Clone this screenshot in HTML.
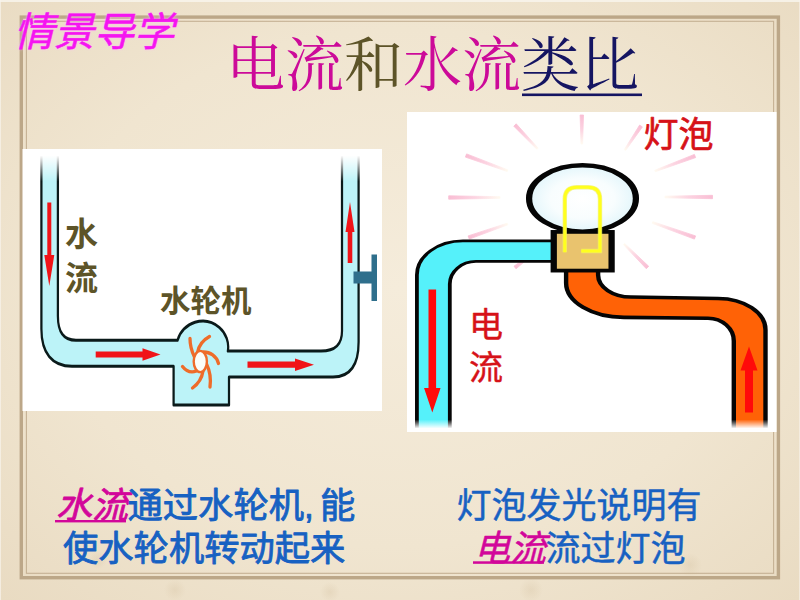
<!DOCTYPE html><html lang="zh"><head><meta charset="utf-8"><title>电流和水流类比</title><style>html,body{margin:0;padding:0;width:800px;height:600px;overflow:hidden;background:#efe3cd;font-family:"Liberation Sans",sans-serif}.slide{position:relative;width:800px;height:600px;overflow:hidden}svg{display:block;position:absolute;left:0;top:0}.sr{position:absolute;left:0;top:0;width:1px;height:1px;overflow:hidden;opacity:0;clip:rect(0 0 0 0);clip-path:inset(50%);white-space:nowrap;font-size:1px;color:transparent}</style></head><body><div class="slide"><div class="sr"><h2>情景导学</h2><h1>电流和水流类比</h1><p>水流 水轮机</p><p>水流通过水轮机, 能使水轮机转动起来</p><p>灯泡 电流</p><p>灯泡发光说明有电流流过灯泡</p></div><svg width="800" height="600" viewBox="0 0 800 600" role="img" aria-labelledby="t d"><title id="t">电流和水流类比</title><desc id="d">情景导学：水流通过水轮机，能使水轮机转动起来；灯泡发光说明有电流流过灯泡。</desc><defs>
<radialGradient id="bg" cx="50%" cy="48%" r="72%">
<stop offset="0" stop-color="#f5ecdb"/>
<stop offset="0.6" stop-color="#f0e5d0"/>
<stop offset="1" stop-color="#e9dbc2"/>
</radialGradient>
<linearGradient id="fadeTop" x1="0" y1="0" x2="0" y2="1">
<stop offset="0" stop-color="#fff" stop-opacity="1"/>
<stop offset="1" stop-color="#fff" stop-opacity="0"/>
</linearGradient>
<linearGradient id="fadeBot" x1="0" y1="0" x2="0" y2="1">
<stop offset="0" stop-color="#fff" stop-opacity="0"/>
<stop offset="1" stop-color="#fff" stop-opacity="1"/>
</linearGradient>
<filter id="glow" x="-10%" y="-20%" width="120%" height="140%"><feGaussianBlur stdDeviation="1.6"/></filter>
</defs>
<rect width="800" height="600" fill="url(#bg)"/>
<rect x="21.3" y="17.1" width="757.1" height="560.6" fill="none" stroke="#bca788" stroke-width="3.4"/>
<rect x="26.4" y="21.3" width="747.2" height="552" fill="none" stroke="#c5b193" stroke-width="1.1"/>
<rect x="0" y="0" width="800" height="2" fill="#f8f4ec" opacity="0.85"/><rect x="0" y="0" width="1" height="600" fill="#f8f4ec" opacity="0.7"/><rect x="799" y="0" width="1" height="600" fill="#f8f4ec" opacity="0.6"/>
<radialGradient id="blob"><stop offset="0" stop-color="#c9b38f" stop-opacity="0.22"/><stop offset="1" stop-color="#c9b38f" stop-opacity="0"/></radialGradient>
<circle cx="175" cy="590" r="11" fill="url(#blob)"/>
<circle cx="531" cy="590" r="12" fill="url(#blob)"/>
<circle cx="690" cy="565" r="12" fill="url(#blob)"/>
<circle cx="98" cy="560" r="9" fill="url(#blob)"/>
<circle cx="330" cy="592" r="10" fill="url(#blob)"/>
<rect x="22.5" y="149" width="359.5" height="262" fill="#fff"/>
<rect x="407" y="112" width="369.5" height="320" fill="#fff"/>
<path d="M41.4 150 L41.4 329 C41.4 353 52 366.3 72 366.3 L173.6 366.3 L173.6 405 L229 405 L229 377 L333 377 C350 377 358.6 365 358.6 342 L358.6 150 L342.0 150 L342.0 331 C342.0 345 335 351 321 351 L227.8 351 C229.29 342.24 226.08 333.36 219.38 327.52 C212.68 321.69 203.45 319.72 194.95 322.33 C186.46 324.94 179.92 331.75 177.65 340.34 L76 340.3 C64 340.3 57.9 333 57.9 316 L57.9 150 Z" fill="#bcf3f8"/>
<g transform="scale(1,1.4)"><path d="M 41.4 107.14 L 41.4 235 C 41.4 252.14 52 261.64 72 261.64 L 173.6 261.64 L 173.6 289.29 L 229 289.29 L 229 269.29 L 333 269.29 C 350 269.29 358.6 260.71 358.6 244.29 L 358.6 107.14" fill="none" stroke="#0a1a1a" stroke-width="2.25" stroke-linejoin="round"/></g>
<g transform="scale(1,1.4)"><path d="M 57.9 107.14 L 57.9 225.71 C 57.9 237.86 64 243.07 76 243.07 L 177.5 243.07 C 179.92 236.96 186.46 232.1 194.95 230.24 C 203.45 228.37 212.68 229.78 219.38 233.94 C 226.08 238.11 229.29 244.46 227.87 250.72 L 321 250.71 C 335 250.71 342 246.43 342 236.43 L 342 107.14" fill="none" stroke="#0a1a1a" stroke-width="2.25" stroke-linejoin="round"/></g>
<rect x="36" y="149" width="28" height="7" fill="#fff"/><rect x="36" y="155.5" width="28" height="26" fill="url(#fadeTop)"/>
<rect x="337" y="149" width="28" height="7" fill="#fff"/><rect x="337" y="155.5" width="28" height="26" fill="url(#fadeTop)"/>
<path d="M47.3 202.5 L51.3 202.5 L51.3 255 L54.3 255 L49.3 286 L44.3 255 L47.3 255 Z" fill="#f01418"/>
<path d="M347.7 263 L352.3 263 L352.3 232 L354.5 232 L350 202 L345.5 232 L347.7 232 Z" fill="#f01418"/>
<path d="M95.7 351.4 L95.7 357.6 L142.5 357.6 L142.5 360.75 L160.5 354.5 L142.5 348.25 L142.5 351.4 Z" fill="#f01418"/>
<path d="M247.5 361.59999999999997 L247.5 367.8 L295 367.8 L295 370.95 L314 364.7 L295 358.45 L295 361.59999999999997 Z" fill="#f01418"/>
<path d="M353.5 271.5 H371.5 V254.5 H377 V301 H371.5 V283.5 H353.5 Z" fill="#2f6f8c"/>
<path d="M194.5 357 C191.5 351 190 345 190 338.5 M197.5 352.5 C199 344 204 339.5 209.5 336.5 M203.5 352 C210 352 216.5 356 218.5 363.5 M206.5 364 C210 371 211 379 210 387 M203 371 C202 378 198 384 192.5 388 M196.5 371 C191 373 186 371 182.5 366.5" fill="none" stroke="#ee6c2a" stroke-width="3.3" stroke-linecap="round"/>
<ellipse cx="200.3" cy="361.5" rx="6.6" ry="10.6" fill="#fbfdf8" stroke="#ee6c2a" stroke-width="2.4"/>
<linearGradient id="r0" gradientUnits="userSpaceOnUse" x1="581.8" y1="115" x2="581.8" y2="144"><stop offset="0" stop-color="#f9bed4"/><stop offset="0.5" stop-color="#fcd3e1"/><stop offset="1" stop-color="#fffaf0"/></linearGradient>
<path d="M580.1 115.0 L581.0 144.0 L582.6 144.0 L583.5 115.0Z" fill="url(#r0)" stroke="url(#r0)" stroke-width="0.8" stroke-linejoin="round"/>
<linearGradient id="r1" gradientUnits="userSpaceOnUse" x1="515" y1="125" x2="537.5" y2="148.7"><stop offset="0" stop-color="#f9bed4"/><stop offset="0.5" stop-color="#fcd3e1"/><stop offset="1" stop-color="#fffaf0"/></linearGradient>
<path d="M513.8 126.2 L536.9 149.3 L538.1 148.1 L516.2 123.8Z" fill="url(#r1)" stroke="url(#r1)" stroke-width="0.8" stroke-linejoin="round"/>
<linearGradient id="r2" gradientUnits="userSpaceOnUse" x1="466" y1="155.5" x2="507.5" y2="170.7"><stop offset="0" stop-color="#f9bed4"/><stop offset="0.5" stop-color="#fcd3e1"/><stop offset="1" stop-color="#fffaf0"/></linearGradient>
<path d="M465.4 157.1 L507.2 171.5 L507.8 169.9 L466.6 153.9Z" fill="url(#r2)" stroke="url(#r2)" stroke-width="0.8" stroke-linejoin="round"/>
<linearGradient id="r3" gradientUnits="userSpaceOnUse" x1="448.7" y1="197.5" x2="500" y2="197.5"><stop offset="0" stop-color="#f9bed4"/><stop offset="0.5" stop-color="#fcd3e1"/><stop offset="1" stop-color="#fffaf0"/></linearGradient>
<path d="M448.7 199.2 L500.0 198.3 L500.0 196.7 L448.7 195.8Z" fill="url(#r3)" stroke="url(#r3)" stroke-width="0.8" stroke-linejoin="round"/>
<linearGradient id="r4" gradientUnits="userSpaceOnUse" x1="468.7" y1="237.5" x2="507.5" y2="224"><stop offset="0" stop-color="#f9bed4"/><stop offset="0.5" stop-color="#fcd3e1"/><stop offset="1" stop-color="#fffaf0"/></linearGradient>
<path d="M469.3 239.1 L507.8 224.8 L507.2 223.2 L468.1 235.9Z" fill="url(#r4)" stroke="url(#r4)" stroke-width="0.8" stroke-linejoin="round"/>
<linearGradient id="r5" gradientUnits="userSpaceOnUse" x1="641" y1="126" x2="625" y2="150"><stop offset="0" stop-color="#f9bed4"/><stop offset="0.5" stop-color="#fcd3e1"/><stop offset="1" stop-color="#fffaf0"/></linearGradient>
<path d="M639.6 125.1 L624.3 149.6 L625.7 150.4 L642.4 126.9Z" fill="url(#r5)" stroke="url(#r5)" stroke-width="0.8" stroke-linejoin="round"/>
<linearGradient id="r6" gradientUnits="userSpaceOnUse" x1="695" y1="156" x2="655" y2="171"><stop offset="0" stop-color="#f9bed4"/><stop offset="0.5" stop-color="#fcd3e1"/><stop offset="1" stop-color="#fffaf0"/></linearGradient>
<path d="M694.4 154.4 L654.7 170.3 L655.3 171.7 L695.6 157.6Z" fill="url(#r6)" stroke="url(#r6)" stroke-width="0.8" stroke-linejoin="round"/>
<linearGradient id="r7" gradientUnits="userSpaceOnUse" x1="712.5" y1="197" x2="665" y2="197"><stop offset="0" stop-color="#f9bed4"/><stop offset="0.5" stop-color="#fcd3e1"/><stop offset="1" stop-color="#fffaf0"/></linearGradient>
<path d="M712.5 195.3 L665.0 196.2 L665.0 197.8 L712.5 198.7Z" fill="url(#r7)" stroke="url(#r7)" stroke-width="0.8" stroke-linejoin="round"/>
<linearGradient id="r8" gradientUnits="userSpaceOnUse" x1="695" y1="237.5" x2="652.5" y2="222.5"><stop offset="0" stop-color="#f9bed4"/><stop offset="0.5" stop-color="#fcd3e1"/><stop offset="1" stop-color="#fffaf0"/></linearGradient>
<path d="M695.6 235.9 L652.8 221.7 L652.2 223.3 L694.4 239.1Z" fill="url(#r8)" stroke="url(#r8)" stroke-width="0.8" stroke-linejoin="round"/>
<linearGradient id="r9" gradientUnits="userSpaceOnUse" x1="647.5" y1="267.5" x2="624" y2="244"><stop offset="0" stop-color="#f9bed4"/><stop offset="0.5" stop-color="#fcd3e1"/><stop offset="1" stop-color="#fffaf0"/></linearGradient>
<path d="M648.7 266.3 L624.6 243.4 L623.4 244.6 L646.3 268.7Z" fill="url(#r9)" stroke="url(#r9)" stroke-width="0.8" stroke-linejoin="round"/>
<linearGradient id="r10" gradientUnits="userSpaceOnUse" x1="515" y1="267.5" x2="535" y2="252"><stop offset="0" stop-color="#f9bed4"/><stop offset="0.5" stop-color="#fcd3e1"/><stop offset="1" stop-color="#fffaf0"/></linearGradient>
<path d="M516.0 268.8 L535.5 252.6 L534.5 251.4 L514.0 266.2Z" fill="url(#r10)" stroke="url(#r10)" stroke-width="0.8" stroke-linejoin="round"/>
<path d="M551 240.9 L463 240.9 C437.54 240.9 416.9 256.17 416.9 275 L416.9 428 L449.8 428 L449.8 284 C449.8 271.52 461.53 261.4 476 261.4 L551 261.4 Z" fill="#55f1fa"/>
<g transform="scale(1.4,1)"><path d="M 393.57 240.9 L 330.71 240.9 C 312.53 240.9 297.79 256.17 297.79 275 L 297.79 428" fill="none" stroke="#050505" stroke-width="2.7" /></g>
<g transform="scale(1.4,1)"><path d="M 393.57 261.4 L 340 261.4 C 329.66 261.4 321.29 271.52 321.29 284 L 321.29 428" fill="none" stroke="#050505" stroke-width="2.7" /></g>
<path d="M566.1 270 L566.1 283 C566.1 302.00 592.02 317.4 624 317.4 L708 318.2 C722.25 318.2 733.8 328.41 733.8 341 L733.8 428 L765.5 428 L765.5 330 C765.5 312.60 744.23 298.5 718 298.5 L631 297 C612.83 297 598.1 287.15 598.1 275 L598.1 270 Z" fill="#ff6206"/>
<g transform="scale(1.22,1)"><path d="M 464.02 270 L 464.02 283 C 464.02 302 485.26 317.4 511.48 317.4 L 580.33 318.2 C 592.01 318.2 601.48 328.41 601.48 341 L 601.48 428" fill="none" stroke="#050505" stroke-width="3.6" /></g>
<g transform="scale(1.22,1)"><path d="M 490.25 270 L 490.25 275 C 490.25 287.15 502.32 297 517.21 297 L 588.52 298.5 C 610.02 298.5 627.46 312.6 627.46 330 L 627.46 428" fill="none" stroke="#050505" stroke-width="3.6" /></g>
<rect x="410" y="419.5" width="48" height="9" fill="url(#fadeBot)"/><rect x="410" y="428" width="48" height="4" fill="#fff"/>
<rect x="726" y="419.5" width="48" height="9" fill="url(#fadeBot)"/><rect x="726" y="428" width="48" height="4" fill="#fff"/>
<path d="M428.5 289.5 L436.1 289.5 L436.1 388.0 L440.55 388.0 L432.3 412.5 L424.05 388.0 L428.5 388.0 Z" fill="#ff0a0a"/>
<path d="M745.0 412.5 L753.0 412.5 L753.0 370.5 L757.5 370.5 L749 346.5 L740.5 370.5 L745.0 370.5 Z" fill="#ff0a0a"/>
<radialGradient id="bulb" cx="50%" cy="50%" r="50%"><stop offset="0" stop-color="#fff"/><stop offset="0.6" stop-color="#f8fdfe"/><stop offset="1" stop-color="#e3f6fb"/></radialGradient>
<g transform="scale(1.42,1)"><ellipse cx="410.21" cy="198.45" rx="37.61" ry="33.15" fill="url(#bulb)" stroke="#050505" stroke-width="4.4"/></g>
<g transform="scale(1.67,1)"><rect x="331.59" y="231.9" width="34.64" height="38.70" fill="#e9c36e" stroke="#050505" stroke-width="3.75"/></g>
<path d="M564.8 252.2 L564.8 199 C564.8 190.5 569.5 187.2 577 187.2 L588 187.2 C595.5 187.2 600 190.5 600 199 L600 251 L581.3 251" fill="none" stroke="#f3f06a" stroke-width="4.4" stroke-linejoin="miter" opacity="0.75"/>
<path d="M564.8 252.2 L564.8 199 C564.8 190.5 569.5 187.2 577 187.2 L588 187.2 C595.5 187.2 600 190.5 600 199 L600 251 L581.3 251" fill="none" stroke="#ffff1e" stroke-width="3" stroke-linejoin="miter"/>
<text x="14" y="46" font-family="'Liberation Sans','Noto Sans CJK SC',sans-serif" font-size="40" font-style="italic" fill="#ffb0ff" filter="url(#glow)" opacity="0.9">情景导学</text>
<text x="14" y="46" font-family="'Liberation Sans','Noto Sans CJK SC',sans-serif" font-size="40" font-style="italic" fill="#f514f0" stroke="#f514f0" stroke-width="0.5">情景导学</text>
<text x="226" y="86" font-family="'Liberation Serif','Noto Serif CJK SC',serif" font-size="59"><tspan fill="#cc0a99">电流</tspan><tspan fill="#5d5428">和</tspan><tspan fill="#cc0a99">水流</tspan><tspan fill="#151562">类比</tspan></text>
<rect x="522.0" y="93.5" width="120.0" height="2.6" fill="#151562"/>
<text x="65" y="246" font-family="'Liberation Sans','Noto Sans CJK SC',sans-serif" font-size="33" font-weight="bold" fill="#5d5428">水</text>
<text x="65" y="290" font-family="'Liberation Sans','Noto Sans CJK SC',sans-serif" font-size="33" font-weight="bold" fill="#5d5428">流</text>
<text x="160" y="312" font-family="'Liberation Sans','Noto Sans CJK SC',sans-serif" font-size="30.5" font-weight="bold" fill="#5d5428">水轮机</text>
<text x="643.5" y="147" font-family="'Liberation Sans','Noto Sans CJK SC',sans-serif" font-size="35" fill="#d61218" stroke="#d61218" stroke-width="0.7" stroke-linejoin="round">灯泡</text>
<text x="469" y="337" font-family="'Liberation Sans','Noto Sans CJK SC',sans-serif" font-size="34" fill="#d61218" stroke="#d61218" stroke-width="0.45" stroke-linejoin="round">电</text>
<text x="469" y="380" font-family="'Liberation Sans','Noto Sans CJK SC',sans-serif" font-size="34" fill="#d61218" stroke="#d61218" stroke-width="0.45" stroke-linejoin="round">流</text>
<text x="56" y="518" font-family="'Liberation Sans','Noto Sans CJK SC',sans-serif" font-size="36" font-style="italic" fill="#d2069a" stroke="#d2069a" stroke-width="0.85" stroke-linejoin="round">水流</text>
<rect x="55" y="520" width="71.0" height="2.4" fill="#d2069a"/>
<text x="127.5" y="518" font-family="'Liberation Sans','Noto Sans CJK SC',sans-serif" font-size="35.3" fill="#1761c2" stroke="#1761c2" stroke-width="0.85" stroke-linejoin="round">通过水轮机</text>
<text x="304" y="518" font-family="'Liberation Sans','Noto Sans CJK SC',sans-serif" font-size="35.3" fill="#1761c2" stroke="#1761c2" stroke-width="0.85" stroke-linejoin="round">,</text>
<text x="320" y="518" font-family="'Liberation Sans','Noto Sans CJK SC',sans-serif" font-size="35.3" fill="#1761c2" stroke="#1761c2" stroke-width="0.85" stroke-linejoin="round">能</text>
<text x="63" y="561" font-family="'Liberation Sans','Noto Sans CJK SC',sans-serif" font-size="35.3" fill="#1761c2" stroke="#1761c2" stroke-width="0.85" stroke-linejoin="round">使水轮机转动起来</text>
<text x="456.5" y="518" font-family="'Liberation Sans','Noto Sans CJK SC',sans-serif" font-size="35" fill="#1761c2" stroke="#1761c2" stroke-width="0.5" stroke-linejoin="round">灯泡发光说明有</text>
<text x="474" y="561" font-family="'Liberation Sans','Noto Sans CJK SC',sans-serif" font-size="36" font-style="italic" fill="#d2069a" stroke="#d2069a" stroke-width="0.5" stroke-linejoin="round">电流</text>
<rect x="473" y="561.3" width="71.0" height="2.5" fill="#d2069a"/>
<text x="545.5" y="561" font-family="'Liberation Sans','Noto Sans CJK SC',sans-serif" font-size="35" fill="#1761c2" stroke="#1761c2" stroke-width="0.5" stroke-linejoin="round">流过灯泡</text></svg></div></body></html>
